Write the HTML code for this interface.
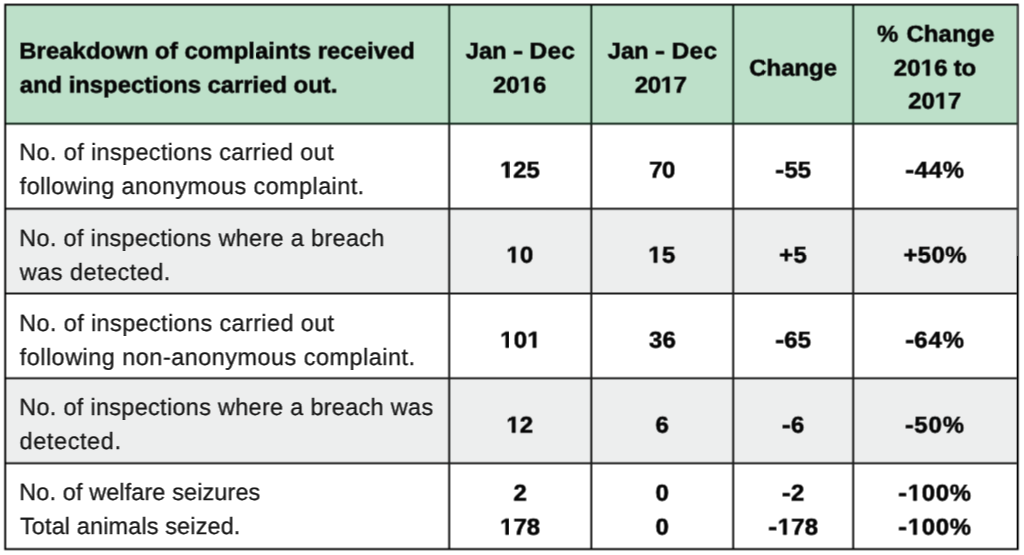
<!DOCTYPE html>
<html>
<head>
<meta charset="utf-8">
<title>Breakdown of complaints received and inspections carried out</title>
<style>
html,body{margin:0;padding:0;background:#fff;}
body{width:1024px;height:555px;position:relative;overflow:hidden;font-family:"Liberation Sans",sans-serif;}
svg{position:absolute;left:0;top:0;display:block;will-change:transform;transform:translate(0.5px,0) rotate(0.0001deg);}
svg.grid{transform:translate(0.5px,0.5px) rotate(0.0001deg);}
svg.up{transform:translate(0.5px,-0.4px) rotate(0.0001deg);}
text{font-family:'Liberation Sans',sans-serif;white-space:pre;text-rendering:geometricPrecision}.b{font-weight:bold;font-size:23.0px;fill:#060606;stroke:#060606;stroke-width:.55px}.n{font-size:23.5px;fill:#181818;stroke:#181818;stroke-width:.3px}.k{font-kerning:none}.x{fill:none;stroke:none}#one{fill:#060606;stroke:#060606;stroke-width:.55px;vector-effect:non-scaling-stroke}
</style>
</head>
<body>
<svg class="grid" width="1024" height="555" viewBox="0.5 0.5 1024 555">
  <defs><path id="one" d="M478 0V1170L140 959V1180L493 1409H759V0Z"/></defs>
  <!-- backgrounds -->
  <rect x="-2" y="-2" width="1030" height="560" fill="#ffffff"/>
  <rect x="5" y="5" width="1012" height="118.70" fill="#bde0c9"/>
  <rect x="5" y="208.70" width="1012" height="84.80" fill="#edeeee"/>
  <rect x="5" y="378.20" width="1012" height="84.95" fill="#edeeee"/>
  <!-- inner grid lines -->
  <g stroke="#1e1e1e" stroke-width="2.05" fill="none">
    <line x1="5" y1="208.7" x2="1017" y2="208.7"/>
    <line x1="5" y1="293.5" x2="1017" y2="293.5"/>
    <line x1="5" y1="378.2" x2="1017" y2="378.2"/>
    <line x1="5" y1="463.15" x2="1017" y2="463.15"/>
    <line x1="449.2" y1="123.7" x2="449.2" y2="549"/>
    <line x1="591.3" y1="123.7" x2="591.3" y2="549"/>
    <line x1="733.2" y1="123.7" x2="733.2" y2="549"/>
    <line x1="853.2" y1="123.7" x2="853.2" y2="549"/>
  </g>
  <!-- header lines (dark green tint) -->
  <g stroke="#162a1e" stroke-width="2.05" fill="none">
    <line x1="5" y1="123.7" x2="1017" y2="123.7"/>
    <line x1="449.2" y1="5" x2="449.2" y2="123.7"/>
    <line x1="591.3" y1="5" x2="591.3" y2="123.7"/>
    <line x1="733.2" y1="5" x2="733.2" y2="123.7"/>
    <line x1="853.2" y1="5" x2="853.2" y2="123.7"/>
  </g>
  <!-- outer border -->
  <rect x="5.2" y="4.7" width="1012.6" height="544.4" fill="none" stroke="#050505" stroke-width="1.9"/>
</svg>
<!-- body text layer -->
<svg width="1024" height="555" viewBox="0.5 0 1024 555">
<text class="n" x="19.25" y="160.00" letter-spacing="0.347">No. of inspections carried out</text>
<text class="n" x="19.75" y="194.00" letter-spacing="0.388">following anonymous complaint.</text>
<text class="n" x="19.25" y="246.00" letter-spacing="0.308">No. of inspections where a breach</text>
<text class="n" x="19.75" y="280.00" letter-spacing="0.454">was detected.</text>
<text class="n" x="19.25" y="331.00" letter-spacing="0.362">No. of inspections carried out</text>
<text class="n" x="19.75" y="365.00" letter-spacing="0.458">following non-anonymous complaint.</text>
<text class="n" x="19.25" y="415.00" letter-spacing="0.285">No. of inspections where a breach was</text>
<text class="n" x="19.50" y="449.00" letter-spacing="0.600">detected.</text>
<text class="n" x="19.25" y="500.00" letter-spacing="0.093">No. of welfare seizures</text>
<text class="n" x="20.00" y="534.00" letter-spacing="0.113">Total animals seized.</text>
</svg>
<!-- bold text layer (nudged up a fraction of a pixel) -->
<svg class="up" width="1024" height="555" viewBox="0.5 0 1024 555">
<text class="b" transform="translate(19.25,59.00) scale(1.0400,1)" letter-spacing="0.028">Breakdown of complaints received</text>
<text class="b" transform="translate(19.75,93.00) scale(1.0400,1)" letter-spacing="-0.052">and inspections carried out.</text>
<text class="b" transform="translate(465.75,59.00) scale(1.0400,1)" letter-spacing="-0.168">Jan</text>
<text class="b" transform="translate(513.00,59.00) scale(1.3125,1)">-</text>
<text class="b" transform="translate(529.50,59.00) scale(1.0610,1)" letter-spacing="0.300">Dec</text>
<text class="b k" transform="translate(493.00,93.00) scale(1.0400,1)" letter-spacing="0.016">20<tspan class="x">1</tspan>6</text>
<use href="#one" transform="translate(519.64,93.00) scale(0.01168,-0.01123)"/>
<text class="b" transform="translate(607.75,59.00) scale(1.0400,1)" letter-spacing="-0.168">Jan</text>
<text class="b" transform="translate(655.00,59.00) scale(1.3003,1)">-</text>
<text class="b" transform="translate(671.75,59.00) scale(1.0545,1)" letter-spacing="0.300">Dec</text>
<text class="b k" transform="translate(634.75,93.00) scale(1.0400,1)" letter-spacing="-0.353">20<tspan class="x">1</tspan>7</text>
<use href="#one" transform="translate(660.62,93.00) scale(0.01168,-0.01123)"/>
<text class="b" transform="translate(749.25,76.00) scale(1.0400,1)">Change</text>
<text class="b" transform="translate(877.00,42.00) scale(1.0400,1)">%</text>
<text class="b" transform="translate(906.50,42.00) scale(1.0400,1)" letter-spacing="0.067">Change</text>
<text class="b k" transform="translate(893.75,76.00) scale(1.0400,1)" letter-spacing="0.176">20<tspan class="x">1</tspan>6</text>
<use href="#one" transform="translate(920.72,76.00) scale(0.01168,-0.01123)"/>
<text class="b" transform="translate(953.75,76.00) scale(1.0400,1)" letter-spacing="-0.192">to</text>
<text class="b k" transform="translate(908.25,109.00) scale(1.0400,1)" letter-spacing="-0.064">20<tspan class="x">1</tspan>7</text>
<use href="#one" transform="translate(934.72,109.00) scale(0.01168,-0.01123)"/>
<text class="b k" transform="translate(500.00,178.00) scale(1.0400,1)" letter-spacing="-0.048"><tspan class="x">1</tspan>25</text>
<use href="#one" transform="translate(500.00,178.00) scale(0.01168,-0.01123)"/>
<text class="b" transform="translate(649.25,178.00) scale(1.0400,1)" letter-spacing="-0.433">70</text>
<text class="b" transform="translate(775.25,178.00) scale(1.1765,1)">-</text>
<text class="b" transform="translate(784.45,178.00) scale(1.0400,1)" letter-spacing="-0.048">55</text>
<text class="b" transform="translate(905.25,178.00) scale(1.1765,1)">-</text>
<text class="b" transform="translate(914.70,178.00) scale(1.0400,1)" letter-spacing="0.697">44%</text>
<text class="b k" transform="translate(506.50,263.00) scale(1.0400,1)" letter-spacing="0.288"><tspan class="x">1</tspan>0</text>
<use href="#one" transform="translate(506.50,263.00) scale(0.01168,-0.01123)"/>
<text class="b k" transform="translate(648.25,263.00) scale(1.0400,1)" letter-spacing="0.481"><tspan class="x">1</tspan>5</text>
<use href="#one" transform="translate(648.25,263.00) scale(0.01168,-0.01123)"/>
<text class="b" transform="translate(779.25,263.00) scale(1.0400,1)" letter-spacing="0.192">+5</text>
<text class="b" transform="translate(903.50,263.00) scale(1.0400,1)" letter-spacing="0.353">+50%</text>
<text class="b k" transform="translate(500.13,348.00) scale(1.0400,1)" letter-spacing="0.288"><tspan class="x">1</tspan>0<tspan class="x">1</tspan></text>
<use href="#one" transform="translate(500.13,348.00) scale(0.01168,-0.01123)"/>
<use href="#one" transform="translate(527.33,348.00) scale(0.01168,-0.01123)"/>
<text class="b" transform="translate(649.00,348.00) scale(1.0400,1)" letter-spacing="0.240">36</text>
<text class="b" transform="translate(775.25,348.00) scale(1.1765,1)">-</text>
<text class="b" transform="translate(784.20,348.00) scale(1.0400,1)" letter-spacing="0.192">65</text>
<text class="b" transform="translate(905.25,348.00) scale(1.1765,1)">-</text>
<text class="b" transform="translate(914.20,348.00) scale(1.0400,1)" letter-spacing="0.937">64%</text>
<text class="b k" transform="translate(506.50,433.00) scale(1.0400,1)" letter-spacing="0.048"><tspan class="x">1</tspan>2</text>
<use href="#one" transform="translate(506.50,433.00) scale(0.01168,-0.01123)"/>
<text class="b" transform="translate(781.70,433.00) scale(1.1702,1)">-</text>
<text class="b" transform="translate(791.00,433.00) scale(1.0400,1)">6</text>
<text class="b" transform="translate(905.05,433.00) scale(1.1373,1)">-</text>
<text class="b" transform="translate(914.25,433.00) scale(1.0400,1)" letter-spacing="0.962">50%</text>
<text class="b k" transform="translate(500.00,535.00) scale(1.0400,1)" letter-spacing="0.096"><tspan class="x">1</tspan>78</text>
<use href="#one" transform="translate(500.00,535.00) scale(0.01168,-0.01123)"/>
<text class="b" transform="translate(781.70,501.00) scale(1.1702,1)">-</text>
<text class="b" transform="translate(791.05,501.00) scale(1.0400,1)">2</text>
<text class="b" transform="translate(768.25,535.00) scale(1.1765,1)">-</text>
<text class="b k" transform="translate(777.70,535.00) scale(1.0400,1)" letter-spacing="0.216"><tspan class="x">1</tspan>78</text>
<use href="#one" transform="translate(777.70,535.00) scale(0.01168,-0.01123)"/>
<text class="b" transform="translate(898.35,501.00) scale(1.1312,1)">-</text>
<text class="b k" transform="translate(907.80,501.00) scale(1.0400,1)" letter-spacing="0.657"><tspan class="x">1</tspan>00%</text>
<use href="#one" transform="translate(907.80,501.00) scale(0.01168,-0.01123)"/>
<text class="b" transform="translate(898.35,535.00) scale(1.1312,1)">-</text>
<text class="b k" transform="translate(907.80,535.00) scale(1.0400,1)" letter-spacing="0.657"><tspan class="x">1</tspan>00%</text>
<use href="#one" transform="translate(907.80,535.00) scale(0.01168,-0.01123)"/>
<text class="b" transform="translate(655.62,433.00) scale(1.0400,1)">6</text>
<text class="b" transform="translate(513.62,501.00) scale(1.0400,1)">2</text>
<text class="b" transform="translate(655.62,501.00) scale(1.0400,1)">0</text>
<text class="b" transform="translate(655.62,535.00) scale(1.0400,1)">0</text>
</svg>
</body>
</html>
